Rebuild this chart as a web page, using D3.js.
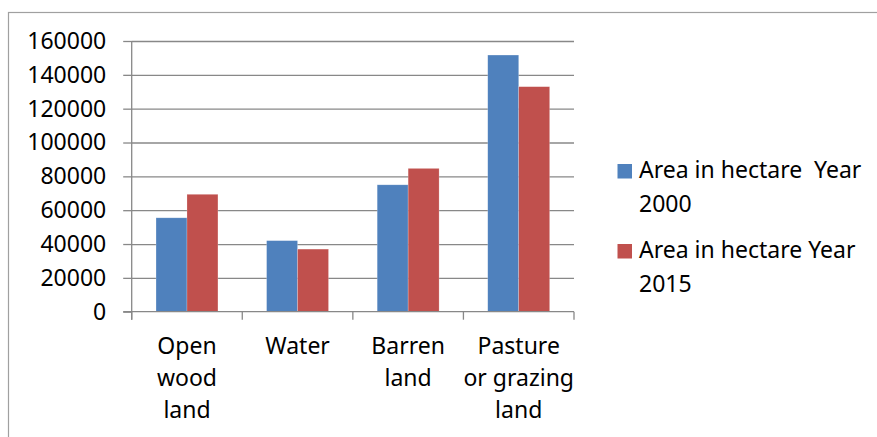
<!DOCTYPE html>
<html>
<head>
<meta charset="utf-8">
<script src="https://cdn.jsdelivr.net/npm/d3@7/dist/d3.min.js"></script>
<style>
  html, body { margin: 0; padding: 0; background: #fff; }
  svg { display: block; }
  text { font-family: "Noto Sans", sans-serif; fill: #000; }
</style>
</head>
<body>
<svg id="chart" width="877" height="437"></svg>
<script>
const categories = [["Open", "wood", "land"], ["Water"], ["Barren", "land"], ["Pasture", "or grazing", "land"]];
const categoryKeys = ["Open wood land", "Water", "Barren land", "Pasture or grazing land"];
const seriesNames = [["Area in hectare  Year", "2000"], ["Area in hectare Year", "2015"]];
const year2000 = [55500, 42000, 75000, 151700];
const year2015 = [69400, 37000, 84700, 133000];
const yTicks = [0, 20000, 40000, 60000, 80000, 100000, 120000, 140000, 160000];
const colors = ["#4F81BD", "#C0504D"];

const svg = d3.select("#chart");
const plotLeft = 131.7, plotRight = 574, plotTop = 41, plotBottom = 311.7;
const fontSize = 23;

// outer frame
svg.append("rect").attr("x", 8.5).attr("y", 12.5).attr("width", 900).attr("height", 500)
  .attr("fill", "none").attr("stroke", "#a0a0a0").attr("stroke-width", 1.2);

const y = d3.scaleLinear().domain([0, 160000]).range([plotBottom, plotTop]);
const x0 = d3.scaleBand().domain(categoryKeys).range([plotLeft, plotRight]).paddingInner(0.44).paddingOuter(0.22);
const x1 = d3.scaleBand().domain([0, 1]).range([0, x0.bandwidth()]);

// gridlines
const grid = svg.append("g").attr("transform", `translate(${plotLeft},0)`)
  .call(d3.axisLeft(y).tickValues(yTicks.slice(1)).tickSize(-(plotRight - plotLeft)).tickFormat(""));
grid.select(".domain").remove();
grid.selectAll("line").attr("stroke", "#888").attr("stroke-width", 1.3);

// bars
const data = categoryKeys.map((k, i) => ({ key: k, values: [year2000[i], year2015[i]] }));
const groups = svg.append("g").selectAll("g").data(data).join("g")
  .attr("transform", d => `translate(${x0(d.key)},0)`);
groups.selectAll("rect").data(d => d.values.map((v, j) => ({ v, j }))).join("rect")
  .attr("x", d => x1(d.j))
  .attr("width", x1.bandwidth())
  .attr("y", d => y(d.v))
  .attr("height", d => y(0) - y(d.v))
  .attr("fill", d => colors[d.j])
  .attr("stroke", "#fff").attr("stroke-opacity", 0.35).attr("stroke-width", 0.6);

// y axis
const yAxis = svg.append("g").attr("transform", `translate(${plotLeft},0)`)
  .call(d3.axisLeft(y).tickValues(yTicks).tickSize(8.5).tickPadding(17).tickFormat(d3.format("d")));
yAxis.select(".domain").remove();
yAxis.selectAll("line").attr("stroke", "#888").attr("stroke-width", 1.3);
yAxis.selectAll("text").attr("font-size", fontSize).attr("font-family", "Noto Sans").attr("fill", "#000");
svg.append("line").attr("x1", plotLeft).attr("x2", plotLeft).attr("y1", plotTop).attr("y2", plotBottom + 8)
  .attr("stroke", "#888").attr("stroke-width", 1.3);

// x axis line and category ticks
svg.append("line").attr("x1", plotLeft - 8.5).attr("x2", plotRight).attr("y1", plotBottom).attr("y2", plotBottom)
  .attr("stroke", "#888").attr("stroke-width", 1.3);
const step = x0.step();
const tickXs = categoryKeys.map(k => x0(k) - step * 0.22).concat([plotRight]);
svg.append("g").selectAll("line").data(tickXs).join("line")
  .attr("x1", d => d).attr("x2", d => d).attr("y1", plotBottom).attr("y2", plotBottom + 8)
  .attr("stroke", "#888").attr("stroke-width", 1.3);

// category labels
const lab = svg.append("g").selectAll("text").data(categoryKeys).join("text")
  .attr("text-anchor", "middle").attr("font-size", fontSize)
  .attr("x", k => x0(k) + x0.bandwidth() / 2).attr("y", 354.3);
lab.each(function (k, i) {
  d3.select(this).selectAll("tspan").data(categories[i]).join("tspan")
    .attr("x", x0(k) + x0.bandwidth() / 2)
    .attr("dy", (d, j) => j === 0 ? 0 : 32)
    .text(d => d);
});

// legend
const legY = [164, 244];
const leg = svg.append("g").selectAll("g").data(seriesNames).join("g");
leg.append("rect").attr("x", 617.5).attr("y", (d, i) => legY[i]).attr("width", 14.5).attr("height", 14.5)
  .attr("fill", (d, i) => colors[i]);
leg.append("text").attr("font-size", fontSize).attr("x", 639).attr("y", (d, i) => legY[i] + 14.3)
  .style("white-space", "pre")
  .selectAll("tspan").data(d => d).join("tspan")
  .attr("x", 639).attr("dy", (d, j) => j === 0 ? 0 : 33.4).text(d => d);
</script>
</body>
</html>
